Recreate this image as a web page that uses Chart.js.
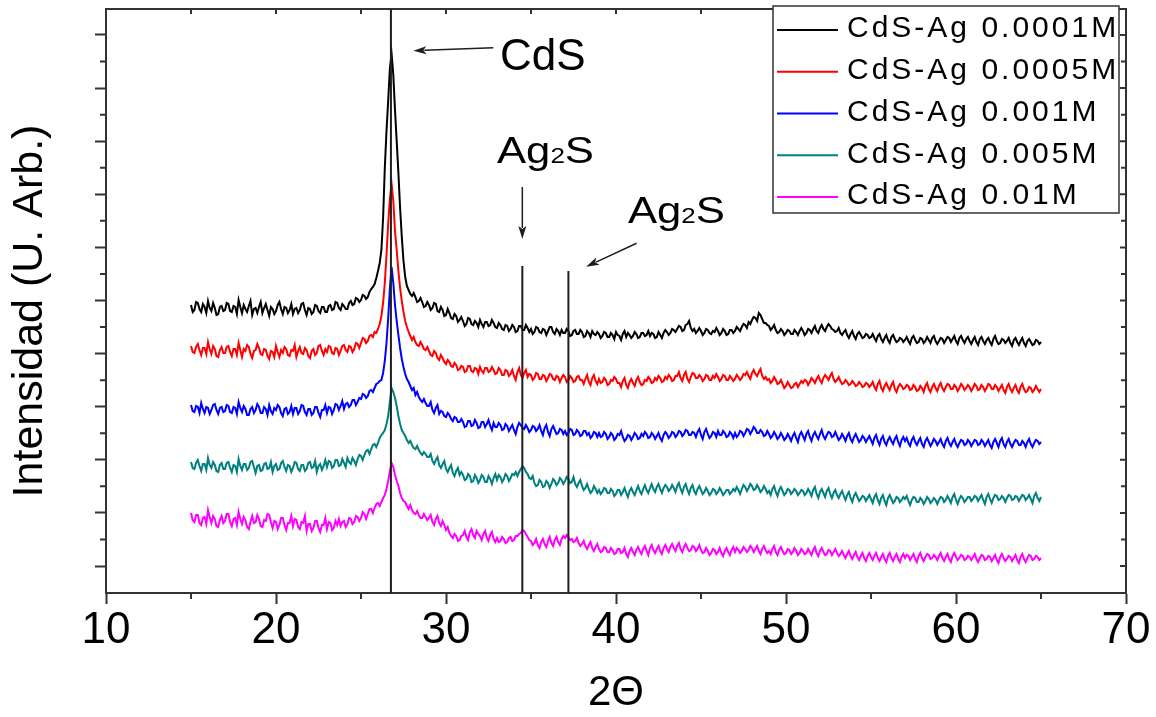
<!DOCTYPE html>
<html lang="es">
<head>
<meta charset="utf-8">
<title>DRX CdS-Ag</title>
<script src="https://cdn.jsdelivr.net/npm/chart.js@4.4.1/dist/chart.umd.min.js"></script>
<style>
  html, body { margin: 0; padding: 0; background: #ffffff; }
  canvas { display: block; }
</style>
</head>
<body>
<canvas id="xrd" width="1156" height="717"></canvas>
<script>
// Diffraction scan grid: 2θ from 15° to 65° in 0.1° steps
const scanStart = 15;
const scanStep = 0.1;
const scanCount = 501;
const twoTheta = Array.from({ length: scanCount }, (_, i) => Math.round((scanStart + i * scanStep) * 10) / 10);

const seriesLabels = ['CdS-Ag 0.0001M', 'CdS-Ag 0.0005M', 'CdS-Ag 0.001M', 'CdS-Ag 0.005M', 'CdS-Ag 0.01M'];
const seriesColors = ['#000000', '#ff0000', '#0000ff', '#008080', '#ff00ff'];

// Intensities in arbitrary units (each pattern already offset for stacking); one row = 2°
const agConc0001 = [
  288,281,283,291,290,284,281,289,286,280,292,285,282,290,285,278,279,286,287,282,
  283,290,289,282,281,287,286,279,293,286,280,288,284,281,287,292,278,284,285,280,
  286,291,280,285,289,283,277,286,284,279,282,288,291,284,279,286,285,280,283,289,
  279,284,285,280,283,289,290,283,278,285,284,279,281,288,287,282,280,286,286,281,
  281,287,288,283,284,291,290,285,283,289,287,284,284,290,292,288,289,295,294,291,
  293,298,297,294,296,301,304,306,309,315,322,330,343,375,425,462,493,525,539,518,
  483,452,420,385,356,332,316,307,303,299,297,300,296,291,292,295,291,286,287,291,
  288,283,285,290,289,282,281,286,283,277,278,284,280,275,274,279,277,271,273,276,
  272,267,269,275,274,269,268,272,270,266,273,269,266,271,271,267,268,273,270,266,
  265,270,268,264,263,268,267,262,264,268,266,261,262,267,267,263,263,268,265,261,
  264,259,261,266,265,261,260,264,263,258,262,266,266,261,259,264,262,258,263,260,
  260,264,262,257,258,262,263,259,259,263,261,256,257,262,260,256,262,259,258,261,
  259,255,257,261,260,256,256,260,258,254,261,258,257,253,259,262,256,260,258,255,
  257,261,259,255,256,260,260,257,258,262,257,260,259,255,256,261,258,255,260,263,
  261,258,260,264,263,261,264,267,266,262,263,268,269,272,265,262,264,260,262,265,
  262,258,260,264,263,260,259,262,261,265,262,258,260,264,262,258,259,263,263,260,
  262,266,264,262,266,269,268,265,271,269,273,276,275,272,280,278,274,270,270,268,
  267,263,265,268,263,260,261,264,262,258,260,263,262,259,259,263,261,258,262,265,
  262,258,260,264,263,260,264,267,262,260,265,268,264,262,266,269,267,264,263,261,
  262,265,260,258,261,263,258,255,259,262,257,254,259,261,258,255,256,259,258,255,
  256,259,255,252,257,259,254,251,255,258,253,250,256,258,254,251,252,255,254,251,
  253,256,252,249,255,257,253,250,251,255,254,250,252,256,253,250,255,257,252,249,
  252,255,254,250,253,256,255,251,254,257,252,249,255,257,253,250,254,256,252,249,
  253,256,251,248,254,256,252,249,253,255,251,248,254,257,252,249,250,254,253,250,
  252,255,250,247,253,255,251,248,252,255,250,247,252,254,251,248,249,253,252,249,
  251
];
const agConc0005 = [
  247,241,240,246,249,243,238,245,245,239,251,244,239,247,244,237,236,243,246,240,
  240,246,247,241,237,244,244,238,250,243,236,244,242,248,246,239,235,242,243,249,
  245,239,238,244,243,237,234,242,241,236,247,241,236,243,240,246,244,238,237,243,
  242,248,236,242,246,240,239,245,243,237,235,242,244,238,240,247,248,242,238,244,
  241,247,246,240,239,245,244,238,242,247,248,243,241,247,246,241,244,250,249,245,
  250,255,254,250,252,257,258,256,261,260,264,269,277,290,310,338,370,394,409,392,
  362,343,322,305,292,281,272,266,261,257,253,256,251,248,247,251,248,244,243,246,
  242,238,237,242,240,235,233,238,235,231,229,233,231,227,226,230,228,223,224,227,
  226,221,222,227,227,222,221,225,224,219,226,222,220,225,225,221,222,226,223,219,
  220,225,223,218,218,223,222,217,219,223,217,213,221,225,218,215,220,223,216,219,
  218,213,215,220,219,214,214,218,217,212,215,219,218,214,213,217,216,211,215,218,
  216,211,213,217,215,211,212,216,217,213,213,209,214,218,211,208,215,218,212,209,
  214,210,211,215,213,208,209,213,212,216,214,210,210,206,212,215,208,205,211,214,
  210,207,213,216,211,208,209,213,212,216,214,210,211,215,213,217,215,211,212,216,
  214,218,216,212,213,217,217,221,215,212,218,221,214,211,216,220,219,215,215,218,
  216,212,214,218,217,213,213,217,215,219,216,212,214,218,217,213,213,217,215,212,
  214,218,216,213,215,219,218,221,217,214,220,223,219,217,221,224,217,214,216,213,
  214,210,212,216,213,209,210,213,209,205,207,211,208,205,206,209,210,206,209,212,
  210,213,212,208,211,215,213,210,214,217,213,210,215,218,216,213,217,220,214,211,
  213,216,212,209,210,213,211,208,209,212,210,207,208,211,209,206,207,210,209,206,
  208,211,206,203,209,212,205,202,207,210,206,203,208,211,204,201,206,209,207,204,
  205,208,207,203,204,208,206,202,203,207,205,201,207,210,204,201,206,209,205,202,
  207,210,205,202,206,209,208,204,204,208,206,202,205,209,207,203,205,208,206,202,
  205,209,207,203,204,208,206,202,205,209,208,204,204,208,206,202,205,208,203,200,
  206,209,204,201,205,208,203,200,206,209,204,201,202,206,205,201,203,207,204,201,
  204
];
const agConc001 = [
  188,182,181,187,186,180,190,184,180,186,185,179,183,188,189,183,179,185,186,181,
  182,188,187,181,180,186,185,179,191,185,181,187,184,178,178,184,186,180,183,189,
  186,180,180,186,184,178,188,182,179,185,183,188,186,180,177,184,185,179,181,187,
  179,185,185,179,182,188,187,181,178,184,184,178,180,186,186,180,176,183,183,188,
  180,186,185,179,183,189,188,183,187,192,184,189,190,186,188,193,193,188,191,195,
  194,199,198,195,197,202,203,201,205,209,210,212,213,220,232,250,275,305,326,310,
  288,272,258,245,234,226,219,214,211,207,203,205,198,201,196,193,191,194,190,187,
  187,191,183,180,185,188,179,182,181,177,176,180,178,174,172,176,175,171,171,174,
  171,166,167,172,172,167,168,173,170,165,166,171,171,166,169,173,167,163,170,166,
  166,170,168,163,164,169,167,162,165,168,163,159,166,170,168,165,164,168,165,161,
  163,167,166,162,164,168,162,158,165,168,161,157,164,167,163,159,160,164,163,159,
  162,158,160,164,163,158,159,163,161,157,158,162,162,158,160,155,157,161,160,156,
  160,156,157,161,159,154,156,160,158,153,155,159,158,162,156,152,154,158,157,153,
  156,160,158,154,155,159,157,161,159,155,156,160,158,154,157,160,155,152,158,161,
  159,155,157,161,160,156,158,162,161,157,159,163,162,158,158,161,160,156,161,164,
  158,154,161,164,159,155,157,161,160,156,162,158,158,162,160,156,157,161,159,155,
  160,156,158,162,161,157,160,164,163,159,162,166,164,160,160,163,161,157,158,162,
  159,155,157,161,158,154,156,160,157,153,155,159,156,152,157,160,155,151,158,161,
  157,153,159,162,156,152,158,161,157,154,159,163,157,154,158,161,160,156,157,161,
  157,153,155,159,156,152,157,160,154,151,156,159,155,151,153,157,155,151,154,157,
  153,149,155,158,152,148,154,157,151,148,153,156,152,149,154,157,151,147,153,156,
  152,155,150,147,153,156,151,148,152,155,149,146,152,155,151,147,150,154,152,148,
  151,154,149,146,152,155,150,147,151,154,149,146,150,153,152,148,149,153,151,147,
  150,153,152,148,149,153,151,147,150,153,148,145,151,154,150,146,152,155,149,146,
  151,154,149,146,150,153,152,148,148,152,150,146,151,154,149,146,150,153,152,149,
  151
];
const agConc005 = [
  131,125,124,130,133,127,122,129,129,123,135,128,125,131,128,122,121,128,130,124,
  124,130,131,125,121,128,127,121,134,127,123,129,129,123,125,131,132,126,120,127,
  128,122,123,129,130,124,125,131,121,127,129,123,124,130,132,126,122,128,127,121,
  125,131,130,124,122,128,128,122,124,130,131,125,126,132,121,127,129,123,127,133,
  126,132,131,125,127,133,133,127,128,134,130,126,135,131,129,135,132,128,134,138,
  137,133,138,142,143,139,144,148,149,146,150,155,158,160,163,169,177,192,205,201,
  195,187,177,169,163,160,157,153,150,152,148,145,144,147,143,140,138,141,139,136,
  136,139,132,129,133,136,128,125,129,132,124,121,125,128,120,117,122,125,118,121,
  118,113,114,119,117,111,112,118,115,110,113,118,116,111,111,117,114,109,115,119,
  113,118,116,111,114,119,117,112,115,119,118,121,117,121,124,127,125,121,119,115,
  114,117,110,107,108,113,111,106,107,112,110,105,109,114,112,108,110,115,113,109,
  112,116,114,110,111,116,109,106,110,113,107,103,105,109,104,100,102,107,104,100,
  103,99,101,105,104,100,100,104,102,97,99,103,103,98,101,105,100,96,102,105,
  101,98,103,107,102,99,104,108,103,100,105,109,104,101,106,109,104,100,105,108,
  106,102,104,108,105,101,107,110,104,100,106,109,103,99,105,108,102,99,104,107,
  103,99,101,105,102,98,100,104,103,99,101,105,102,98,100,103,103,99,101,104,
  102,106,103,99,104,108,106,102,105,109,107,103,104,108,105,101,103,107,104,100,
  102,98,104,107,101,97,103,106,102,98,100,104,103,99,101,104,102,98,100,103,
  102,98,100,104,101,97,103,106,99,95,101,104,100,96,102,105,99,95,100,103,
  98,95,99,102,97,93,98,101,95,91,97,100,96,92,94,97,96,92,95,98,
  94,90,96,99,93,89,95,98,92,88,95,98,94,90,92,96,95,91,93,96,
  94,97,92,88,93,96,95,91,91,95,93,89,92,96,94,90,92,95,93,89,
  93,96,95,91,93,97,94,90,96,99,93,89,94,97,95,91,93,96,96,92,
  94,97,96,92,95,98,93,89,96,99,94,90,95,98,97,93,94,97,95,91,
  95,98,97,93,94,97,96,92,95,98,97,93,95,98,94,90,97,100,95,92,
  96
];
const agConc01 = [
  80,73,71,78,78,70,68,75,76,69,83,76,70,77,74,67,66,73,77,70,
  72,79,79,71,67,74,75,68,81,74,69,76,73,66,64,71,77,70,71,78,
  74,67,66,73,72,79,78,71,65,72,71,64,68,75,75,68,63,70,70,77,
  67,74,73,66,64,71,70,77,62,69,69,62,65,72,72,65,61,68,68,75,
  64,71,70,63,65,72,68,74,67,71,72,66,69,75,74,69,71,77,76,72,
  75,81,79,74,79,84,84,80,85,89,90,87,91,95,98,104,112,122,130,126,
  118,112,107,100,95,92,91,87,84,88,83,80,79,82,78,75,75,79,76,73,
  75,78,71,68,74,77,70,67,72,68,63,66,60,57,55,59,57,52,53,57,
  58,62,56,53,61,64,58,55,62,59,57,53,59,62,55,52,58,61,54,51,
  55,51,52,56,54,50,51,55,56,52,53,57,57,59,60,63,62,59,56,53,
  52,48,50,54,48,45,51,54,49,46,52,56,50,47,53,56,51,48,54,57,
  55,58,56,53,54,51,52,55,50,47,49,52,47,44,48,51,45,42,46,49,
  44,41,42,46,45,41,41,45,43,39,40,44,44,40,41,45,39,36,42,45,
  41,38,43,46,42,39,44,47,42,38,45,48,43,40,44,47,42,39,45,48,
  44,41,46,49,45,42,47,50,44,41,46,49,45,42,43,47,46,42,44,48,
  43,40,41,45,42,38,40,44,43,39,41,45,40,37,42,45,41,38,43,46,
  41,45,43,40,42,46,44,41,43,47,45,41,44,47,42,39,44,47,43,40,
  42,39,44,47,41,38,43,46,42,39,40,44,43,39,41,45,42,38,40,44,
  42,39,40,44,41,38,43,46,40,37,42,45,41,38,39,43,42,38,41,44,
  40,37,39,42,38,35,39,42,37,34,38,41,36,33,37,40,35,32,37,40,
  36,33,37,40,35,32,36,39,34,31,37,40,35,32,36,39,34,31,36,39,
  35,38,37,33,36,39,34,31,37,40,35,32,36,39,38,34,35,38,36,33,
  37,40,35,32,36,39,34,31,37,40,36,33,35,38,37,33,34,37,36,33,
  36,39,34,31,35,38,37,33,34,37,36,32,35,38,33,30,36,39,35,32,
  34,37,36,32,35,38,33,30,36,39,34,31,35,38,37,33,34,37,36,33,
  35
];
const seriesValues = [agConc0001, agConc0005, agConc001, agConc005, agConc01];

// Axis ranges and tick positions
const xRange = [10, 70];
const xMajorStep = 10;
const xMinorStep = 5;
const yRange = [0, 584];
const yMajorTicks = [27, 80.1, 133.2, 186.3, 239.4, 292.5, 345.6, 398.7, 451.8, 504.9, 558];

// Reflection markers (2θ) and where the Ag2S marker lines begin
const cdsPeak = 26.76;
const ag2sPeaks = [34.49, 37.2];
const ag2sMarkerTops = [327, 322];

// Label anchors and arrows, in data coordinates [2θ, intensity]
const cdsLabelAt = [33.18, 523];
const cdsArrow = [[32.78, 545.3], [28.08, 542.3]];
const ag2sLabelsAt = [[33.0, 429.7], [40.7, 369.7]];
const ag2sArrows = [
  [[34.49, 406], [34.49, 354]],
  [[41.21, 349.7], [38.24, 326.3]]
];

const fontFamily = '"Liberation Sans", Arial, Helvetica, sans-serif';
const frameColor = '#333333';
const markerColor = '#1e1e1e';

Chart.defaults.font.family = fontFamily;
Chart.defaults.color = '#000000';

function drawArrow(ctx, x1, y1, x2, y2, head, half) {
  const ang = Math.atan2(y2 - y1, x2 - x1);
  const c = Math.cos(ang), s = Math.sin(ang);
  const bx = x2 - head * c, by = y2 - head * s;
  ctx.beginPath();
  ctx.moveTo(x1, y1);
  ctx.lineTo(bx + 2 * c, by + 2 * s);
  ctx.stroke();
  ctx.beginPath();
  ctx.moveTo(x2, y2);
  ctx.lineTo(bx + half * s, by - half * c);
  ctx.lineTo(bx + 3 * c, by + 3 * s);
  ctx.lineTo(bx - half * s, by + half * c);
  ctx.closePath();
  ctx.fill();
}

function drawAg2S(ctx, px, py) {
  ctx.save();
  ctx.translate(px, py);
  ctx.scale(1.18, 1);
  ctx.textAlign = 'left';
  ctx.textBaseline = 'alphabetic';
  ctx.font = '37px ' + fontFamily;
  ctx.fillText('Ag', 0, 0);
  let w = ctx.measureText('Ag').width;
  ctx.font = '22px ' + fontFamily;
  ctx.fillText('2', w, 0);
  w += ctx.measureText('2').width;
  ctx.font = '37px ' + fontFamily;
  ctx.fillText('S', w, 0);
  ctx.restore();
}

// Closed frame: top/right edges, minor ticks and mirrored ticks
const framePlugin = {
  id: 'frameTicks',
  afterDatasetsDraw(chart) {
    const { ctx, chartArea: a, scales: { x, y } } = chart;
    ctx.save();
    ctx.strokeStyle = frameColor;
    ctx.lineWidth = 2;
    ctx.beginPath();
    ctx.moveTo(a.left, a.top);
    ctx.lineTo(a.right, a.top);
    ctx.lineTo(a.right, a.bottom + 1);
    for (let v = x.min + xMinorStep; v < x.max; v += xMinorStep) {
      const px = x.getPixelForValue(v);
      ctx.moveTo(px, a.top);
      ctx.lineTo(px, a.top + 5);
      if (Math.abs(v % xMajorStep) > 1e-6) {
        ctx.moveTo(px, a.bottom);
        ctx.lineTo(px, a.bottom + 6);
      }
    }
    yMajorTicks.forEach((v, i) => {
      const py = y.getPixelForValue(v);
      ctx.moveTo(a.right, py);
      ctx.lineTo(a.right - 6, py);
      if (i < yMajorTicks.length - 1) {
        const pm = y.getPixelForValue((v + yMajorTicks[i + 1]) / 2);
        ctx.moveTo(a.left, pm);
        ctx.lineTo(a.left - 6, pm);
        ctx.moveTo(a.right, pm);
        ctx.lineTo(a.right - 5, pm);
      }
    });
    ctx.stroke();
    ctx.restore();
  }
};

// Reflection markers, arrows and phase labels
const markerPlugin = {
  id: 'phaseMarkers',
  afterDatasetsDraw(chart) {
    const { ctx, chartArea: a, scales: { x, y } } = chart;
    const P = (pt) => [x.getPixelForValue(pt[0]), y.getPixelForValue(pt[1])];
    ctx.save();
    ctx.strokeStyle = markerColor;
    ctx.fillStyle = markerColor;
    ctx.lineWidth = 2;
    const xc = x.getPixelForValue(cdsPeak);
    ctx.beginPath();
    ctx.moveTo(xc, a.top);
    ctx.lineTo(xc, a.bottom);
    ag2sPeaks.forEach((p, i) => {
      const xp = x.getPixelForValue(p);
      ctx.moveTo(xp, y.getPixelForValue(ag2sMarkerTops[i]));
      ctx.lineTo(xp, a.bottom);
    });
    ctx.stroke();

    ctx.lineWidth = 1.5;
    const [c0, c1] = [P(cdsArrow[0]), P(cdsArrow[1])];
    drawArrow(ctx, c0[0], c0[1], c1[0], c1[1], 13, 4);
    ag2sArrows.forEach(arr => {
      const [s0, s1] = [P(arr[0]), P(arr[1])];
      drawArrow(ctx, s0[0], s0[1], s1[0], s1[1], 13, 4);
    });

    ctx.fillStyle = '#000000';
    ctx.textAlign = 'left';
    ctx.textBaseline = 'alphabetic';
    ctx.font = '44px ' + fontFamily;
    const cl = P(cdsLabelAt);
    ctx.fillText('CdS', cl[0], cl[1]);
    ag2sLabelsAt.forEach(pt => {
      const q = P(pt);
      drawAg2S(ctx, q[0], q[1]);
    });
    ctx.restore();
  }
};

// Key box in the upper right corner and the vertical axis title
const keyPlugin = {
  id: 'seriesKey',
  afterDraw(chart) {
    const { ctx } = chart;
    const box = { left: 773, top: 6, right: 1119, bottom: 213 };
    ctx.save();
    ctx.fillStyle = '#ffffff';
    ctx.fillRect(box.left, box.top, box.right - box.left, box.bottom - box.top);
    ctx.strokeStyle = frameColor;
    ctx.lineWidth = 1.5;
    ctx.strokeRect(box.left, box.top, box.right - box.left, box.bottom - box.top);
    ctx.font = '30px ' + fontFamily;
    ctx.textAlign = 'left';
    ctx.textBaseline = 'alphabetic';
    const spaced = 'letterSpacing' in ctx;
    if (spaced) ctx.letterSpacing = '3px';
    chart.data.datasets.forEach((ds, i) => {
      const ly = 30 + i * 41.75;
      ctx.strokeStyle = ds.borderColor;
      ctx.lineWidth = 2;
      ctx.beginPath();
      ctx.moveTo(777, ly);
      ctx.lineTo(838, ly);
      ctx.stroke();
      ctx.fillStyle = '#000000';
      if (spaced) {
        ctx.fillText(ds.label, 847, ly + 7.3);
      } else {
        let tx = 847;
        for (const ch of ds.label) {
          ctx.fillText(ch, tx, ly + 7.3);
          tx += ctx.measureText(ch).width + 3;
        }
      }
    });
    if (spaced) ctx.letterSpacing = '0px';

    ctx.translate(30, 311);
    ctx.rotate(-Math.PI / 2);
    ctx.font = '43px ' + fontFamily;
    ctx.fillStyle = '#000000';
    ctx.textAlign = 'center';
    ctx.textBaseline = 'middle';
    ctx.fillText('Intensidad (U. Arb.)', 0, 0);
    ctx.restore();
  }
};

new Chart(document.getElementById('xrd'), {
  type: 'line',
  data: {
    datasets: seriesValues.map((vals, k) => ({
      label: seriesLabels[k],
      data: vals.map((v, i) => ({ x: twoTheta[i], y: v })),
      borderColor: seriesColors[k],
      backgroundColor: seriesColors[k],
      borderWidth: 2,
      borderJoinStyle: 'miter',
      pointRadius: 0,
      tension: 0,
      fill: false
    }))
  },
  options: {
    responsive: false,
    animation: false,
    devicePixelRatio: 1,
    events: [],
    layout: { padding: { top: 9, right: 30, left: 0, bottom: 0 } },
    plugins: { legend: { display: false }, tooltip: { enabled: false } },
    scales: {
      x: {
        type: 'linear',
        min: xRange[0],
        max: xRange[1],
        ticks: {
          stepSize: xMajorStep,
          autoSkip: false,
          maxRotation: 0,
          padding: 0,
          color: '#000000',
          font: { size: 44, lineHeight: 1.2 }
        },
        grid: { drawOnChartArea: false, drawTicks: true, tickLength: 11, tickWidth: 2, tickColor: frameColor },
        border: { display: true, color: frameColor, width: 2 },
        title: {
          display: true,
          text: '2Θ',
          color: '#000000',
          font: { size: 42, lineHeight: 1 },
          padding: { top: 0, bottom: 3 }
        },
        afterFit: (s) => { s.height = 124; }
      },
      y: {
        type: 'linear',
        min: yRange[0],
        max: yRange[1],
        afterBuildTicks: (s) => { s.ticks = yMajorTicks.map(v => ({ value: v })); },
        ticks: { display: false },
        grid: { drawOnChartArea: false, drawTicks: true, tickLength: 11, tickWidth: 2, tickColor: frameColor },
        border: { display: true, color: frameColor, width: 2 },
        afterFit: (s) => { s.width = 106; }
      }
    }
  },
  plugins: [framePlugin, markerPlugin, keyPlugin]
});
</script>
</body>
</html>
